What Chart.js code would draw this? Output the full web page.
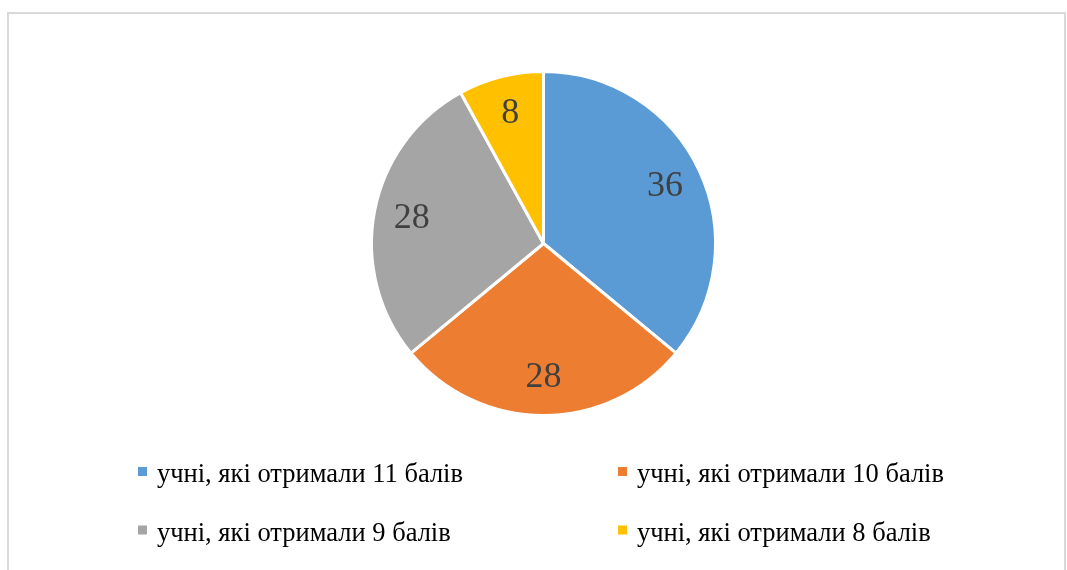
<!DOCTYPE html>
<html>
<head>
<meta charset="utf-8">
<script src="https://cdn.jsdelivr.net/npm/chart.js@4/dist/chart.umd.min.js"></script>
<style>
  html, body { margin: 0; padding: 0; background: #fff; overflow: hidden; }
  #frame {
    position: absolute; left: 7px; top: 12px; width: 1059px; height: 570px;
    border: 2px solid #d9d9d9; box-sizing: border-box;
  }
  #wrap { position: absolute; left: 0; top: 0; width: 1067px; height: 570px; }
</style>
</head>
<body>
<div id="frame"></div>
<div id="wrap"><canvas id="pieChart"></canvas></div>
<script>
const categories = [
  "учні, які отримали 11 балів",
  "учні, які отримали 10 балів",
  "учні, які отримали 9 балів",
  "учні, які отримали 8 балів"
];
const values = [36, 28, 28, 8];
const colors = ["#5B9BD5", "#ED7D31", "#A5A5A5", "#FFC000"];

const serif = '"Liberation Serif", "Times New Roman", serif';

// value labels inside slices
const sliceLabels = {
  id: 'sliceLabels',
  afterDatasetsDraw(chart) {
    const ctx = chart.ctx;
    const meta = chart.getDatasetMeta(0);
    ctx.save();
    ctx.font = '36px ' + serif;
    ctx.fillStyle = '#404040';
    ctx.textAlign = 'center';
    ctx.textBaseline = 'middle';
    meta.data.forEach((arc, i) => {
      const mid = (arc.startAngle + arc.endAngle) / 2;
      const r = arc.outerRadius * 0.78;
      ctx.fillText(String(values[i]), arc.x + Math.cos(mid) * r, arc.y + Math.sin(mid) * r);
    });
    ctx.restore();
  }
};

// two column legend like the excel one
const gridLegend = {
  id: 'gridLegend',
  afterDraw(chart) {
    const ctx = chart.ctx;
    const colX = [138, 618];
    const rowBase = [482, 540.5];
    ctx.save();
    ctx.font = '26.5px ' + serif;
    ctx.textBaseline = 'alphabetic';
    ctx.textAlign = 'left';
    categories.forEach((name, i) => {
      const x = colX[i % 2];
      const y = rowBase[Math.floor(i / 2)];
      ctx.fillStyle = colors[i];
      ctx.fillRect(x, y - 15, 9, 9);
      ctx.fillStyle = '#000';
      ctx.fillText(name, x + 19, y);
    });
    ctx.restore();
  }
};

new Chart(document.getElementById('pieChart'), {
  type: 'pie',
  data: {
    labels: categories,
    datasets: [{
      data: values,
      backgroundColor: colors,
      borderColor: '#ffffff',
      borderWidth: 3,
      hoverOffset: 0
    }]
  },
  options: {
    responsive: true,
    maintainAspectRatio: false,
    animation: false,
    layout: { padding: { left: 370, right: 350, top: 70, bottom: 153 } },
    plugins: {
      legend: { display: false },
      tooltip: { enabled: false },
      title: { display: false }
    }
  },
  plugins: [sliceLabels, gridLegend]
});
</script>
</body>
</html>
